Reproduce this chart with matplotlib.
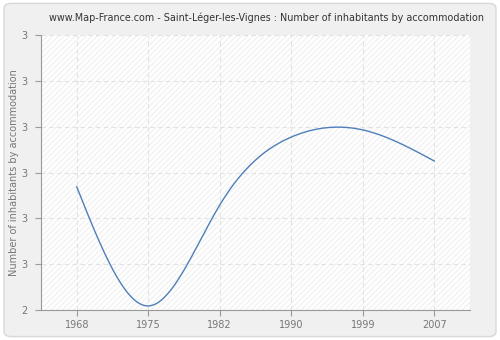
import numpy as np
import matplotlib
matplotlib.use('Agg')
import matplotlib.pyplot as plt
from matplotlib.patches import FancyBboxPatch, Rectangle

# Data
years = ['1968', '1975', '1982', '1990', '1999', '2007']
values = [2.448, 2.015, 2.382, 2.629, 2.655, 2.542]
y_ticks = [2.0, 2.1667, 2.3333, 2.5, 2.6667, 2.8333, 3.0]
y_tick_labels = ['2', '3', '3', '3', '3', '3', '3']

BG_COLOR = '#f0f0f0'
LINE_COLOR = '#4f7fb8'
GRID_COLOR = '#e2e2e2'
TEXT_COLOR = '#777777'
AXIS_COLOR = '#999999'


def natural_spline(x, y, n=300):
    # natural cubic spline used only to draw the smooth line through the points
    x = np.asarray(x, float)
    y = np.asarray(y, float)
    k = len(x)
    h = np.diff(x)
    A = np.zeros((k, k))
    b = np.zeros(k)
    A[0, 0] = A[-1, -1] = 1
    for i in range(1, k - 1):
        A[i, i - 1] = h[i - 1]
        A[i, i] = 2 * (h[i - 1] + h[i])
        A[i, i + 1] = h[i]
        b[i] = 6 * ((y[i + 1] - y[i]) / h[i] - (y[i] - y[i - 1]) / h[i - 1])
    m = np.linalg.solve(A, b)
    xs = np.linspace(x[0], x[-1], n)
    idx = np.clip(np.searchsorted(x, xs) - 1, 0, k - 2)
    t0 = x[idx]
    t1 = x[idx + 1]
    hh = t1 - t0
    ys = (m[idx] * (t1 - xs) ** 3 / (6 * hh) + m[idx + 1] * (xs - t0) ** 3 / (6 * hh)
          + (y[idx] / hh - m[idx] * hh / 6) * (t1 - xs)
          + (y[idx + 1] / hh - m[idx + 1] * hh / 6) * (xs - t0))
    return xs, ys


fig = plt.figure(figsize=(5, 3.4), dpi=100, facecolor='white')
fig.patches.append(FancyBboxPatch((0.008, 0.01), 0.984, 0.98, boxstyle='round,pad=0,rounding_size=0.015',
                                  transform=fig.transFigure, facecolor=BG_COLOR, edgecolor='#d8d8d8',
                                  linewidth=1, zorder=-5))

ax = fig.add_axes([0.082, 0.088, 0.858, 0.809])
ax.set_zorder(2)
ax.set_facecolor('white')
ax.add_patch(Rectangle((0, 0), 1, 1, transform=ax.transAxes, facecolor='none',
                       edgecolor='#f2f2f2', hatch='//////', linewidth=0, zorder=0))

pos = np.arange(len(years))
xs, ys = natural_spline(pos, values)
ax.plot(xs, ys, color=LINE_COLOR, linewidth=1, zorder=3)

ax.set_xlim(-0.5, len(years) - 0.5)
ax.set_ylim(2.0, 3.0)
ax.set_xticks(pos)
ax.set_xticklabels(years)
ax.set_yticks(y_ticks)
ax.set_yticklabels(y_tick_labels)

ax.grid(True, color=GRID_COLOR, linestyle=(0, (4, 3)), linewidth=0.8, zorder=1)
ax.set_axisbelow(True)

for side in ['top', 'right']:
    ax.spines[side].set_visible(False)
for side in ['left', 'bottom']:
    ax.spines[side].set_color(AXIS_COLOR)
ax.tick_params(axis='both', colors=AXIS_COLOR, labelcolor=TEXT_COLOR, labelsize=7, length=4, width=0.8)
ax.tick_params(axis='y', pad=6)

ax.set_ylabel('Number of inhabitants by accommodation', color=TEXT_COLOR, fontsize=7)
ax.yaxis.set_label_coords(-0.052, 0.5)
fig.text(0.533, 0.947, 'www.Map-France.com - Saint-Léger-les-Vignes : Number of inhabitants by accommodation',
         ha='center', va='center', fontsize=6.9, color='#333333')

plt.savefig('out.png', dpi=100, facecolor='white')
